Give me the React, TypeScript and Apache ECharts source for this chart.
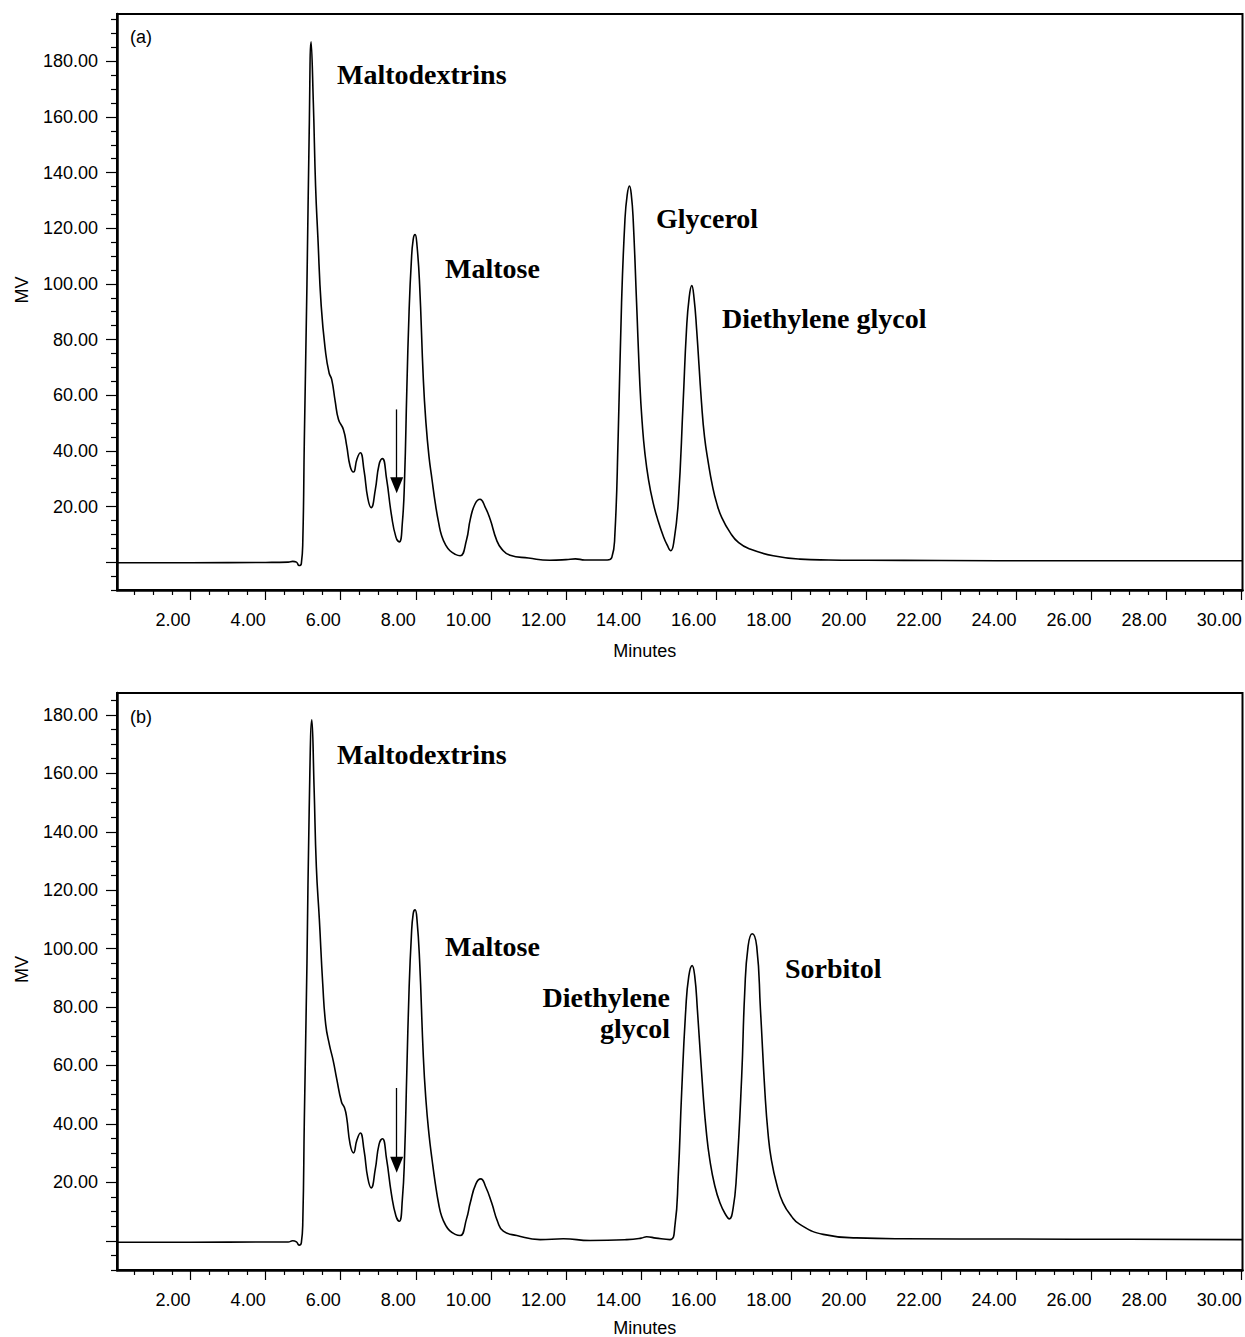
import React, { useEffect, useRef } from "react";
import * as echarts from "echarts";

// ---- data: chromatogram (a) [minutes, mV] ----
const chromatogramA: number[][] = [
  [0.04, -0.2], [2.0, -0.2], [4.0, -0.1], [4.6, 0.0], [4.72, 0.3], [4.82, 0.0], [4.89, -1.2], [4.95, -0.5],
  [4.99, 8], [5.03, 44], [5.10, 100], [5.16, 155], [5.21, 187], [5.27, 165], [5.33, 135], [5.39, 117],
  [5.48, 92], [5.60, 75], [5.69, 68], [5.76, 65.6], [5.85, 58], [5.94, 51.3], [6.07, 47.7], [6.16, 41.7],
  [6.25, 34.5], [6.34, 32.4], [6.43, 37], [6.52, 39.3], [6.62, 33], [6.72, 23], [6.81, 19.6], [6.92, 26],
  [7.02, 35], [7.11, 37.2], [7.22, 30], [7.35, 17], [7.47, 9], [7.56, 7.3], [7.64, 14], [7.70, 30],
  [7.76, 62], [7.82, 90], [7.88, 108], [7.93, 116], [7.98, 117.7], [8.03, 114], [8.10, 100], [8.20, 65.6],
  [8.27, 50], [8.35, 38], [8.43, 29.8], [8.52, 21], [8.61, 14], [8.69, 9.4], [8.80, 6], [8.91, 4.1],
  [9.05, 2.8], [9.18, 2.3], [9.35, 8], [9.45, 15.4], [9.58, 21], [9.71, 22.6], [9.84, 20], [9.98, 15.4],
  [10.15, 8], [10.29, 4.7], [10.51, 2.5], [11.0, 1.5], [11.57, 0.7], [12.0, 0.9], [12.25, 1.2], [12.5, 0.8],
  [13.1, 0.8], [13.22, 1.7], [13.30, 9.4], [13.39, 45.3], [13.48, 93.2], [13.57, 123], [13.63, 132], [13.69, 135.2],
  [13.74, 132], [13.79, 123], [13.88, 93.2], [13.97, 63.2], [14.03, 50], [14.10, 39.4], [14.20, 29.5], [14.32, 21.4],
  [14.45, 15], [14.59, 9.4], [14.70, 6], [14.79, 4.1], [14.88, 8], [14.99, 21.4], [15.12, 57.3], [15.21, 83.6],
  [15.28, 95], [15.35, 99.4], [15.41, 95], [15.48, 83.6], [15.61, 57.3], [15.69, 45], [15.79, 35.8], [15.90, 27.5],
  [16.01, 21.4], [16.15, 16], [16.37, 10.7], [16.60, 7], [16.90, 4.7], [17.52, 2.3], [18.23, 1.1], [19.0, 0.8],
  [20.0, 0.7], [22.0, 0.6], [25.0, 0.5], [28.0, 0.5], [30.02, 0.5],
];

// ---- data: chromatogram (b) [minutes, mV] ----
const chromatogramB: number[][] = [
  [0.04, -0.5], [2.0, -0.5], [4.0, -0.4], [4.6, -0.4], [4.72, 0.0], [4.82, -0.4], [4.89, -1.5], [4.95, -0.7],
  [4.99, 7], [5.03, 41.5], [5.10, 95], [5.16, 148], [5.23, 178.3], [5.29, 155], [5.35, 128], [5.43, 110],
  [5.52, 88], [5.60, 74], [5.70, 67], [5.80, 61.6], [5.89, 55.6], [6.02, 47.5], [6.10, 45.5], [6.16, 42],
  [6.25, 33], [6.34, 30.1], [6.43, 34.5], [6.52, 36.9], [6.62, 31], [6.72, 21.5], [6.81, 18.1], [6.92, 24.5],
  [7.02, 33], [7.11, 34.9], [7.22, 28], [7.35, 16], [7.47, 8.5], [7.56, 6.7], [7.64, 14], [7.70, 29],
  [7.76, 58], [7.82, 86], [7.88, 104], [7.93, 112], [7.98, 113.3], [8.03, 110], [8.10, 96], [8.20, 63],
  [8.27, 48], [8.35, 36.5], [8.43, 28], [8.52, 19.5], [8.61, 12.5], [8.69, 8.3], [8.80, 5.2], [8.90, 3.5],
  [9.05, 2.2], [9.18, 1.8], [9.35, 7.5], [9.45, 13.0], [9.60, 19.5], [9.73, 21.2], [9.86, 18.5], [10.02, 13.0],
  [10.18, 6.5], [10.33, 3.3], [10.69, 1.8], [11.31, 0.4], [11.93, 0.7], [12.64, 0.1], [13.62, 0.4], [14.0, 0.9],
  [14.15, 1.4], [14.4, 0.9], [14.77, 0.4], [14.90, 5.0], [14.99, 22.1], [15.08, 50.6], [15.19, 79.1], [15.27, 90.5],
  [15.36, 94.2], [15.43, 90.5], [15.50, 79.1], [15.65, 50.6], [15.74, 37], [15.83, 27.8], [15.96, 19], [16.10, 13.0],
  [16.25, 9.0], [16.35, 7.5], [16.45, 11], [16.54, 22.1], [16.68, 56.3], [16.76, 84.8], [16.85, 100.8], [16.96, 105.1],
  [17.08, 100.8], [17.18, 79.1], [17.30, 50.6], [17.38, 37], [17.47, 27.8], [17.62, 19], [17.78, 13.0], [18.0, 8.5],
  [18.23, 5.6], [18.85, 2.2], [19.74, 1.0], [21, 0.7], [24, 0.6], [27, 0.5], [30.02, 0.4],
];

// arrows: [minutes, mV start, mV end]
const arrowA = [7.49, 54.9, 27.6];
const arrowB = [7.49, 52.3, 26.0];

// ticks
const xTickLabels = [2, 4, 6, 8, 10, 12, 14, 16, 18, 20, 22, 24, 26, 28, 30];
const yTickLabels = [20, 40, 60, 80, 100, 120, 140, 160, 180];
const yMajorTicks = [0, 20, 40, 60, 80, 100, 120, 140, 160, 180];

const panelTags = ["(a)", "(b)"];
const peakNamesA = ["Maltodextrins", "Maltose", "Glycerol", "Diethylene glycol"];
const peakNamesB = ["Maltodextrins", "Maltose", "Diethylene\nglycol", "Sorbitol"];

const X_MIN = 0.04;
const X_MAX = 30.02;

const xMinorTicks: number[] = [];
for (let i = 1; i <= 59; i++) {
  const v = i * 0.5;
  if (v % 2 !== 0) xMinorTicks.push(v);
}
const yMinorTicks: number[] = [];
for (let v = -10; v <= 195; v += 5) {
  if (v % 20 !== 0) yMinorTicks.push(v);
}

const SANS = '"Liberation Sans", Arial, Helvetica, sans-serif';
const SERIF_BOLD = 'bold 28px "Liberation Serif", "Times New Roman", serif';

function makeXAxes(gridIndex: number, nameGap: number) {
  return [
    {
      type: "value",
      gridIndex,
      min: X_MIN,
      max: X_MAX,
      position: "bottom",
      name: "Minutes",
      nameLocation: "middle",
      nameGap,
      nameTextStyle: { fontFamily: SANS, fontSize: 18, color: "#000", padding: [0, 70, 0, 0] },
      axisLine: { show: true, onZero: false, lineStyle: { color: "#000", width: 2.5 } },
      axisTick: { show: true, length: 10, customValues: xTickLabels, lineStyle: { color: "#000", width: 1.2 } },
      axisLabel: {
        show: true,
        margin: 21,
        align: "right",
        customValues: xTickLabels,
        formatter: (v: number) => v.toFixed(2),
        fontFamily: SANS,
        fontSize: 18,
        color: "#000",
      },
      splitLine: { show: false },
    },
    {
      type: "value",
      gridIndex,
      min: X_MIN,
      max: X_MAX,
      position: "bottom",
      axisLine: { show: false, onZero: false },
      axisTick: { show: true, length: 5, customValues: xMinorTicks, lineStyle: { color: "#000", width: 1.2 } },
      axisLabel: { show: false },
      splitLine: { show: false },
    },
  ];
}

function makeYAxes(gridIndex: number, max: number) {
  return [
    {
      type: "value",
      gridIndex,
      min: -10,
      max,
      position: "left",
      name: "MV",
      nameLocation: "middle",
      nameGap: 86,
      nameRotate: 90,
      nameTextStyle: { fontFamily: SANS, fontSize: 18, color: "#000", padding: [0, 0, 0, 24] },
      axisLine: { show: true, onZero: false, lineStyle: { color: "#000", width: 2.5 } },
      axisTick: { show: true, length: 11, customValues: yMajorTicks, lineStyle: { color: "#000", width: 1.2 } },
      axisLabel: {
        show: true,
        margin: 19,
        customValues: yTickLabels,
        formatter: (v: number) => v.toFixed(2),
        fontFamily: SANS,
        fontSize: 18,
        color: "#000",
      },
      splitLine: { show: false },
    },
    {
      type: "value",
      gridIndex,
      min: -10,
      max,
      position: "left",
      axisLine: { show: false, onZero: false },
      axisTick: { show: true, length: 6, customValues: yMinorTicks, lineStyle: { color: "#000", width: 1.2 } },
      axisLabel: { show: false },
      splitLine: { show: false },
    },
  ];
}

function arrowMarkLine(a: number[]) {
  return {
    silent: true,
    symbol: ["none", "triangle"],
    symbolSize: [13, 16],
    lineStyle: { color: "#000", width: 1.3, type: "solid" },
    itemStyle: { color: "#000" },
    label: { show: false },
    emphasis: { disabled: true },
    data: [[{ coord: [a[0], a[1]] }, { coord: [a[0], a[2]] }]],
  };
}

function peakText(text: string, x: number, y: number, align = "left") {
  return {
    type: "text",
    x,
    y,
    silent: true,
    style: {
      text,
      font: SERIF_BOLD,
      fill: "#000",
      align,
      verticalAlign: "middle",
      lineHeight: 31,
    },
  };
}

function tagText(text: string, x: number, y: number) {
  return {
    type: "text",
    x,
    y,
    silent: true,
    style: { text, font: `18px ${SANS}`, fill: "#000", align: "left", verticalAlign: "middle" },
  };
}

export default function App() {
  const ref = useRef<HTMLDivElement>(null);

  useEffect(() => {
    if (!ref.current) return;
    const chart = echarts.init(ref.current, null, { renderer: "svg" });
    const gridBase = {
      left: 117,
      width: 1125.5,
      show: true,
      borderColor: "#000",
      borderWidth: 2,
      containLabel: false,
      outerBoundsMode: "none",
    };
    const option: any = {
      animation: false,
      backgroundColor: "#fff",
      grid: [
        { ...gridBase, top: 14, height: 576 },
        { ...gridBase, top: 693, height: 577 },
      ],
      xAxis: [...makeXAxes(0, 52), ...makeXAxes(1, 49)],
      yAxis: [...makeYAxes(0, 197), ...makeYAxes(1, 187.5)],
      series: [
        {
          type: "line",
          xAxisIndex: 0,
          yAxisIndex: 0,
          data: chromatogramA,
          symbol: "none",
          showSymbol: false,
          smooth: 0.5,
          lineStyle: { color: "#000", width: 1.6 },
          markLine: arrowMarkLine(arrowA),
        },
        {
          type: "line",
          xAxisIndex: 2,
          yAxisIndex: 2,
          data: chromatogramB,
          symbol: "none",
          showSymbol: false,
          smooth: 0.5,
          lineStyle: { color: "#000", width: 1.6 },
          markLine: arrowMarkLine(arrowB),
        },
      ],
      graphic: [
        tagText(panelTags[0], 130, 37),
        tagText(panelTags[1], 130, 717),
        peakText(peakNamesA[0], 337, 74),
        peakText(peakNamesA[1], 445, 268),
        peakText(peakNamesA[2], 656, 218),
        peakText(peakNamesA[3], 722, 318),
        peakText(peakNamesB[0], 337, 754),
        peakText(peakNamesB[1], 445, 946),
        peakText(peakNamesB[2], 670, 1013, "right"),
        peakText(peakNamesB[3], 785, 968),
      ],
    };
    chart.setOption(option);
    return () => chart.dispose();
  }, []);

  return (
    <div
      ref={ref}
      style={{ position: "fixed", left: 0, top: 0, width: 1245, height: 1337, background: "#fff" }}
    />
  );
}
